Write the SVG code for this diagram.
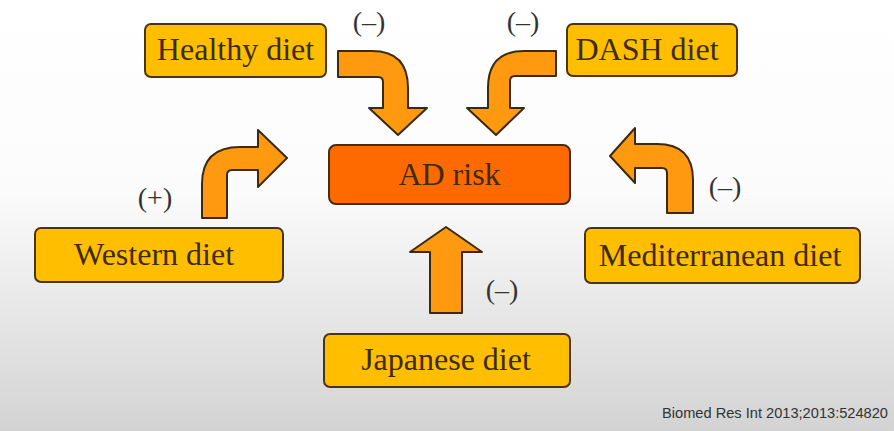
<svg xmlns="http://www.w3.org/2000/svg" width="894" height="431" viewBox="0 0 894 431">
<defs>
<linearGradient id="bg" x1="0" y1="0" x2="0" y2="1">
<stop offset="0" stop-color="#ffffff"/>
<stop offset="0.45" stop-color="#fbfbfb"/>
<stop offset="1" stop-color="#d3d3d3"/>
</linearGradient>
<style>
.box{fill:#ffbf00;stroke:#4a3510;stroke-width:2}
.core{fill:#ff6a00;stroke:#4a2a10;stroke-width:2}
.arr{fill:#ff9a10;stroke:#3b2a10;stroke-width:2;stroke-linejoin:round}
.t{font-family:"Liberation Serif",serif;font-size:32px;fill:#3d2b0a;text-anchor:middle}
.s{font-family:"Liberation Serif",serif;font-size:28px;fill:#333333;text-anchor:middle}
.c{font-family:"Liberation Sans",sans-serif;font-size:14px;fill:#333333}
</style>
</defs>
<rect x="0" y="0" width="894" height="431" fill="url(#bg)"/>

<g id="connectors">
<path class="arr" d="M338,51 L372,51 Q408,51 408,88 L408,108 L427,108 L398,135 L369,108 L383,108 L383,82 Q383,77 378,77 L338,77 Z"/>
<path class="arr" d="M556,51 L524,51 Q488,51 488,88 L488,108 L467,108 L496,135 L524,108 L510,108 L510,81 Q510,76 515,76 L556,76 Z"/>
<path class="arr" d="M202,218 L202,184 Q202,147 240,147 L258,147 L258,130 L287,158 L258,187 L258,170 L232,170 Q227,170 227,175 L227,218 Z"/>
<path class="arr" d="M693,213 L693,180 Q693,144 657,144 L635,144 L635,128 L610,156 L635,183 L635,168 L662,168 Q667,168 667,173 L667,213 Z"/>
<path class="arr" d="M430,313 L430,252 L410,252 L446,227 L482,252 L462,252 L462,313 Z"/>
<text class="s" x="369" y="31">(–)</text>
<text class="s" x="523" y="31">(–)</text>
<text class="s" x="155" y="207">(+)</text>
<text class="s" x="725" y="196">(–)</text>
<text class="s" x="502" y="299">(–)</text>
</g>

<g id="ad-risk">
<rect class="core" x="329" y="145" width="241" height="59" rx="7"/>
<text class="t" x="449.5" y="185">AD risk</text>
</g>
<g id="healthy-diet">
<rect class="box" x="145" y="24" width="181" height="53" rx="6"/>
<text class="t" x="235.5" y="60">Healthy diet</text>
</g>
<g id="dash-diet">
<rect class="box" x="567" y="24" width="170" height="52" rx="6"/>
<text class="t" x="647" y="60">DASH diet</text>
</g>
<g id="western-diet">
<rect class="box" x="35" y="228" width="248" height="54" rx="6"/>
<text class="t" x="154" y="265">Western diet</text>
</g>
<g id="mediterranean-diet">
<rect class="box" x="585" y="228" width="275" height="55" rx="6"/>
<text class="t" x="720" y="266">Mediterranean diet</text>
</g>
<g id="japanese-diet">
<rect class="box" x="324" y="334" width="246" height="53" rx="6"/>
<text class="t" x="446" y="370">Japanese diet</text>
</g>
<text class="c" x="662" y="418" textLength="226" lengthAdjust="spacingAndGlyphs">Biomed Res Int 2013;2013:524820</text>
</svg>
